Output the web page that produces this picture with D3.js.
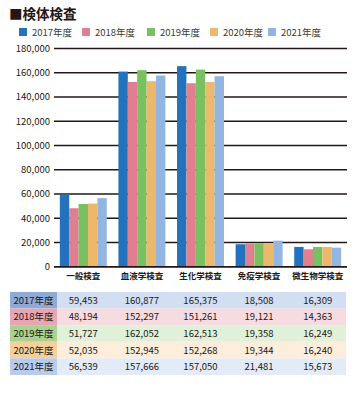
<!DOCTYPE html>
<html><head><meta charset="utf-8">
<script src="https://cdn.jsdelivr.net/npm/d3@7"></script>
<style>
html,body{margin:0;padding:0;background:#fff;}
svg{display:block;font-family:"Noto Sans CJK JP","Noto Sans",sans-serif;}
</style></head>
<body><svg id="c" width="360" height="400"></svg>
<script>
const title = "■検体検査";
const categories = ["一般検査","血液学検査","生化学検査","免疫学検査","微生物学検査"];
const years = ["2017年度","2018年度","2019年度","2020年度","2021年度"];
const v2017 = [59453,160877,165375,18508,16309];
const v2018 = [48194,152297,151261,19121,14363];
const v2019 = [51727,162052,162513,19358,16249];
const v2020 = [52035,152945,152268,19344,16240];
const v2021 = [56539,157666,157050,21481,15673];
const yTicks = [0,20000,40000,60000,80000,100000,120000,140000,160000,180000];
const barColors = ["#2272bd","#e07f90","#79c160","#ecb96c","#93b5e1"];
const headColors = ["#8eaad8","#e8a6b3","#a8d38f","#f6cf9c","#b8cbea"];
const rowColors = ["#d2def1","#f6dce1","#e1f0d9","#fdeedb","#e3ebf7"];
const series = [v2017,v2018,v2019,v2020,v2021];

const svg = d3.select("#c");
const pLeft = 54, pRight = 347, pTop = 48.4, pBottom = 266.7;

svg.append("text").attr("x",9).attr("y",19).attr("font-size",13.5).attr("font-weight","bold")
  .attr("fill","#231815").text(title);

// legend
const legX = [19,82,147,210,268];
years.forEach((yr,i)=>{
  const g = svg.append("g").attr("transform",`translate(${legX[i]},28)`);
  g.append("rect").attr("width",8).attr("height",8).attr("fill",barColors[i]);
  g.append("text").attr("x",13).attr("y",7.5).attr("font-size",9.5).attr("fill","#3a3a3a").text(yr);
});

const y = d3.scaleLinear().domain([0,180000]).range([pBottom,pTop]);
const x = d3.scaleBand().domain(categories).range([pLeft,pRight]).paddingInner(0).paddingOuter(0);
const xi = d3.scaleBand().domain(years).range([0,x.bandwidth()]).paddingOuter(0.62).paddingInner(0);

// gridlines
svg.append("g").selectAll("line").data(yTicks).join("line")
  .attr("x1",pLeft).attr("x2",pRight).attr("y1",d=>y(d)).attr("y2",d=>y(d))
  .attr("stroke","#231815").attr("stroke-width",1.5);

// y labels
svg.append("g").selectAll("text").data(yTicks).join("text")
  .attr("x",50).attr("y",d=>y(d)+3.5).attr("text-anchor","end")
  .attr("font-size",9.5).attr("fill","#231815")
  .text(d=>d3.format(",")(d));

// bars
const gb = svg.append("g");
categories.forEach((c,ci)=>{
  years.forEach((yr,si)=>{
    const v = series[si][ci];
    gb.append("rect").attr("x",x(c)+xi(yr)).attr("width",xi.bandwidth())
      .attr("y",y(v)).attr("height",y(0)-y(v)).attr("fill",barColors[si]);
  });
});
// baseline
svg.append("line").attr("x1",pLeft).attr("x2",pRight).attr("y1",y(0)).attr("y2",y(0))
  .attr("stroke","#231815").attr("stroke-width",1.5);

// category labels
svg.append("g").selectAll("text").data(categories).join("text")
  .attr("x",d=>x(d)+x.bandwidth()/2).attr("y",279).attr("text-anchor","middle")
  .attr("font-size",8.5).attr("font-weight","bold").attr("fill","#231815").text(d=>d);

// table
const tTop = 292, rowH = 16.6, tLeft = 10, tRight = 346, headW = 47;
years.forEach((yr,i)=>{
  const ry = tTop + i*rowH;
  svg.append("rect").attr("x",tLeft).attr("y",ry).attr("width",tRight-tLeft).attr("height",rowH).attr("fill",rowColors[i]);
  svg.append("rect").attr("x",tLeft).attr("y",ry).attr("width",headW).attr("height",rowH).attr("fill",headColors[i]);
  svg.append("text").attr("x",tLeft+headW/2).attr("y",ry+rowH/2+3.5).attr("text-anchor","middle")
    .attr("font-size",9.5).attr("fill","#231815").text(yr);
  categories.forEach((c,ci)=>{
    svg.append("text").attr("x",x(c)+x.bandwidth()/2).attr("y",ry+rowH/2+3.5).attr("text-anchor","middle")
      .attr("font-size",9.5).attr("fill","#231815").text(d3.format(",")(series[i][ci]));
  });
});
</script></body></html>
